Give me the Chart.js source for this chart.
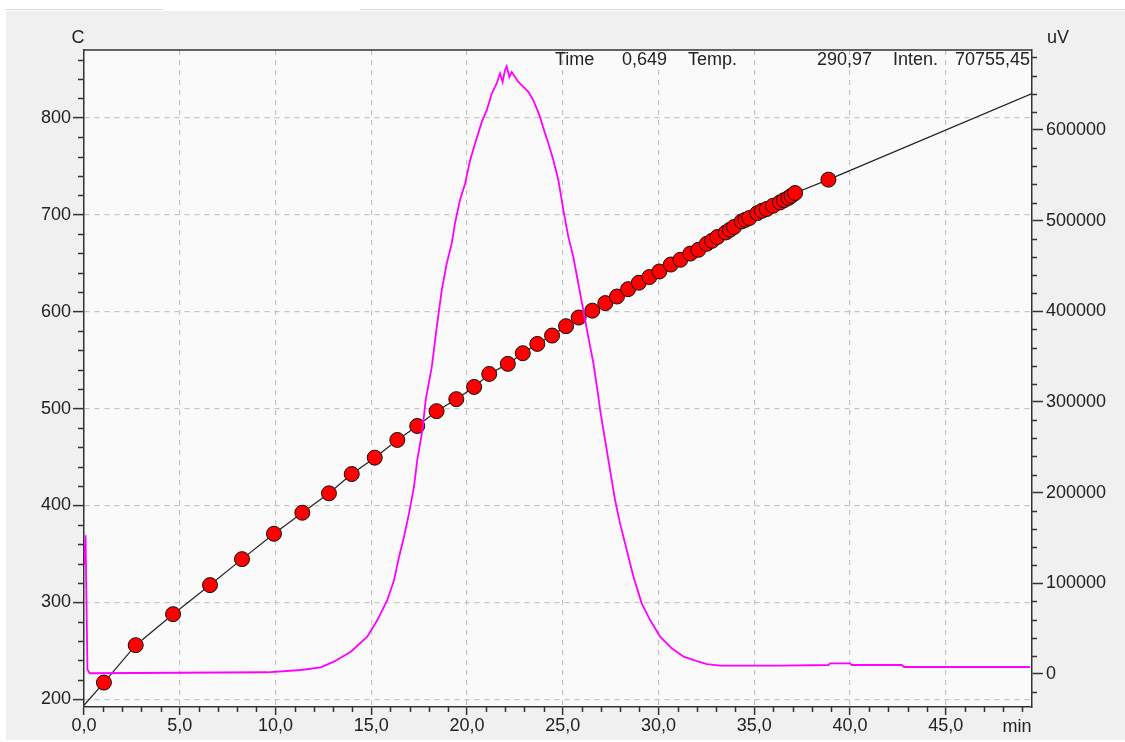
<!DOCTYPE html>
<html>
<head>
<meta charset="utf-8">
<script src="https://cdn.jsdelivr.net/npm/chart.js@4.4.1/dist/chart.umd.min.js"></script>
<style>
  html, body { margin:0; padding:0; background:#fff; }
  body { width:1125px; height:742px; position:relative; overflow:hidden; }
  #wrap { position:absolute; left:6px; top:11px; width:1119px; height:729px; background:#f0f0f0; }
  .rule { position:absolute; top:9px; height:1px; background:#dcdcdc; }
</style>
</head>
<body>
<div class="rule" style="left:5px;width:158px"></div>
<div class="rule" style="left:360px;width:765px"></div>
<div id="wrap"><canvas id="chromChart"></canvas></div>
<script>
// temperature read-outs (red dots), min / C
var pointTime = [1.04, 2.70, 4.65, 6.58, 8.25, 9.92, 11.40, 12.79, 13.98, 15.18, 16.36, 17.40, 18.41, 19.44, 20.37,
  21.16, 22.13, 22.91, 23.67, 24.44, 25.17, 25.83, 26.54, 27.22, 27.83, 28.41, 28.97, 29.52, 30.04, 30.64,
  31.14, 31.66, 32.08, 32.52, 32.79, 33.07, 33.51, 33.73, 33.94, 34.34, 34.54, 34.74, 35.16, 35.40, 35.65,
  35.98, 36.34, 36.55, 36.78, 36.94, 37.13, 38.87];
var pointTemp = [217.2, 255.8, 287.8, 317.8, 344.6, 370.8, 392.5, 412.5, 432.4, 449.3, 467.6, 482.0, 497.3, 509.7, 522.3,
  535.7, 546.1, 557.1, 566.7, 575.3, 585.0, 593.9, 601.0, 608.8, 615.6, 623.2, 629.8, 635.7, 641.4, 648.6,
  653.5, 659.9, 663.8, 670.0, 673.1, 677.0, 681.7, 684.5, 687.3, 693.1, 694.8, 696.6, 701.7, 704.1, 705.9,
  709.3, 712.7, 715.0, 717.3, 719.6, 722.4, 736.2];

// ends of the program line (start / end of run)
var rampTime = [0, 49.5];
var rampTemp = [193.8, 825];

// detector signal, min / uV
var signalTime = [0, 0.08, 0.18, 0.3, 9.56, 11.32, 12.36, 13.05, 13.93, 14.79, 15.32, 15.84, 16.19, 16.45, 16.71,
  16.97, 17.23, 17.40, 17.67, 17.84, 18.16, 18.42, 18.68, 18.94, 19.20, 19.37, 19.63, 19.90, 20.16, 20.42,
  20.77, 21.03, 21.29, 21.55, 21.72, 21.86, 21.98, 22.07, 22.21, 22.33, 22.51, 22.68, 22.94, 23.20, 23.46,
  23.64, 23.81, 24.02, 24.25, 24.51, 24.77, 25.03, 25.29, 25.55, 25.81, 26.07, 26.33, 26.60, 26.86, 26.95,
  27.21, 27.47, 27.73, 27.99, 28.34, 28.69, 29.12, 29.56, 30.08, 30.69, 31.31, 32.00, 32.52, 33.21, 36.35,
  38.87, 38.96, 40.00, 40.09, 42.70, 42.82, 49.40];
var signalUV = [120000, 153000, 5000, 800, 1900, 4400, 7400, 13600, 24600, 41100, 59500, 81600, 103600, 129300, 151400,
  177200, 206500, 235900, 269000, 302100, 338800, 382900, 423400, 452800, 474800, 496900, 522600, 541000, 566700, 585100,
  608900, 621800, 640200, 651300, 662300, 653000, 665900, 670300, 658500, 664000, 658500, 653000, 647500, 642000, 632800,
  623700, 614400, 599800, 585100, 566700, 544600, 511600, 482100, 460100, 430700, 401300, 371900, 342500, 305700, 291100,
  258000, 224900, 191800, 166100, 136700, 107300, 77900, 59500, 41100, 28300, 19100, 14300, 11000, 9200, 9200,
  9900, 11800, 11800, 9900, 9900, 7700, 7700];

// tick labels
var xTicks = [0, 5, 10, 15, 20, 25, 30, 35, 40, 45];
var tempTicks = [200, 300, 400, 500, 600, 700, 800];
var uvTicks = [0, 100000, 200000, 300000, 400000, 500000, 600000];

var header = ['Time', '0,649', 'Temp.', '290,97', 'Inten.', '70755,45'];

var FONT = '"Liberation Sans", Arial, sans-serif';
var INK = '#222';

function xy(xs, ys) {
  return xs.map(function (x, i) { return {x: x, y: ys[i]}; });
}

var dots = xy(pointTime, pointTemp);
var ramp = [{x: rampTime[0], y: rampTemp[0]}].concat(dots, [{x: rampTime[1], y: rampTemp[1]}]);

function fixTicks(values) {
  return function (scale) {
    scale.ticks = values.map(function (v) { return {value: v}; });
  };
}

function fixWidth(w) {
  return function (scale) {
    scale.width = w;
    scale.paddingTop = 0;
    scale.paddingBottom = 0;
  };
}

function gridOpts(len) {
  return {
    color: '#c4c4c4',
    lineWidth: 1.2,
    tickColor: '#333',
    tickLength: len,
    tickWidth: 1.5
  };
}

var decor = {
  id: 'decor',
  beforeDraw: function (chart) {
    var a = chart.chartArea, c = chart.ctx;
    c.save();
    c.fillStyle = '#fafafa';
    c.fillRect(a.left, a.top, a.right - a.left, a.bottom - a.top);
    c.restore();
  },
  afterDraw: function (chart) {
    var a = chart.chartArea, c = chart.ctx;
    var sx = chart.scales.x, sy = chart.scales.y, sy1 = chart.scales.y1;
    var v, p;
    c.save();
    c.strokeStyle = '#333';
    c.lineWidth = 1.5;
    c.beginPath();
    c.moveTo(a.left, a.top);
    c.lineTo(a.right, a.top);
    c.stroke();

    // minor ticks
    c.beginPath();
    for (v = 1; v < sx.max; v += 1) {
      if (v % 5 === 0) continue;
      p = Math.round(sx.getPixelForValue(v)) + 0.5;
      c.moveTo(p, a.bottom); c.lineTo(p, a.bottom + 5);
    }
    for (v = 200; v <= sy.max; v += 20) {
      if (v % 100 === 0) continue;
      p = Math.round(sy.getPixelForValue(v)) + 0.5;
      c.moveTo(a.left - 6, p); c.lineTo(a.left, p);
    }
    for (v = -20000; v <= sy1.max; v += 20000) {
      if (v % 100000 === 0) continue;
      p = Math.round(sy1.getPixelForValue(v)) + 0.5;
      c.moveTo(a.right, p); c.lineTo(a.right + 5, p);
    }
    c.stroke();

    // captions
    c.fillStyle = INK;
    c.font = '18px ' + FONT;
    c.textBaseline = 'middle';
    c.textAlign = 'center';
    c.fillText('C', a.left - 6, a.top - 12);
    c.fillText('uV', a.right + 26, a.top - 12);
    c.fillText('min', a.right - 15, a.bottom + 20);

    var hy = a.top + 10;
    c.textAlign = 'left';
    c.fillText(header[0], a.right - 477, hy);
    c.fillText(header[2], a.right - 344, hy);
    c.fillText(header[4], a.right - 139, hy);
    c.textAlign = 'right';
    c.fillText(header[1], a.right - 365, hy);
    c.fillText(header[3], a.right - 160, hy);
    c.fillText(header[5], a.right - 2, hy);
    c.restore();
  }
};

new Chart(document.getElementById('chromChart'), {
  type: 'scatter',
  data: {
    datasets: [{
      label: 'Signal',
      data: xy(signalTime, signalUV),
      yAxisID: 'y1',
      showLine: true,
      borderColor: '#ff00ff',
      borderWidth: 1.8,
      pointRadius: 0,
      order: 0
    }, {
      label: 'Temp points',
      data: dots,
      yAxisID: 'y',
      showLine: false,
      pointRadius: 7.5,
      pointBackgroundColor: '#ff0000',
      pointBorderColor: '#111',
      pointBorderWidth: 1,
      order: 1
    }, {
      label: 'Program',
      data: ramp,
      yAxisID: 'y',
      showLine: true,
      borderColor: '#222',
      borderWidth: 1.2,
      pointRadius: 0,
      order: 2
    }]
  },
  options: {
    responsive: true,
    maintainAspectRatio: false,
    animation: false,
    layout: { padding: { top: 39, left: 0, right: 0, bottom: 0 } },
    plugins: {
      legend: { display: false },
      tooltip: { enabled: false }
    },
    scales: {
      x: {
        type: 'linear',
        position: 'bottom',
        min: 0,
        max: 49.5,
        afterBuildTicks: fixTicks(xTicks),
        afterFit: function (scale) {
          scale.height = 33;
          scale.paddingLeft = 0;
          scale.paddingRight = 0;
        },
        ticks: {
          autoSkip: false,
          maxRotation: 0,
          padding: 0,
          color: INK,
          font: { family: FONT, size: 18 },
          callback: function (v) { return v.toFixed(1).replace('.', ','); }
        },
        grid: gridOpts(8),
        border: { color: '#333', width: 1.5, dash: [5, 5] }
      },
      y: {
        type: 'linear',
        position: 'left',
        min: 192,
        max: 870,
        afterBuildTicks: fixTicks(tempTicks),
        afterFit: fixWidth(78),
        ticks: {
          padding: 2,
          color: INK,
          font: { family: FONT, size: 18 }
        },
        grid: gridOpts(11),
        border: { color: '#333', width: 1.5, dash: [5, 5] }
      },
      y1: {
        type: 'linear',
        position: 'right',
        min: -36400,
        max: 688200,
        afterBuildTicks: fixTicks(uvTicks),
        afterFit: fixWidth(93),
        ticks: {
          padding: 3,
          color: INK,
          font: { family: FONT, size: 18 },
          callback: function (v) { return String(v); }
        },
        grid: {
          drawOnChartArea: false,
          tickColor: '#333',
          tickLength: 11,
          tickWidth: 1.5
        },
        border: { color: '#333', width: 1.5 }
      }
    }
  },
  plugins: [decor]
});
</script>
</body>
</html>
